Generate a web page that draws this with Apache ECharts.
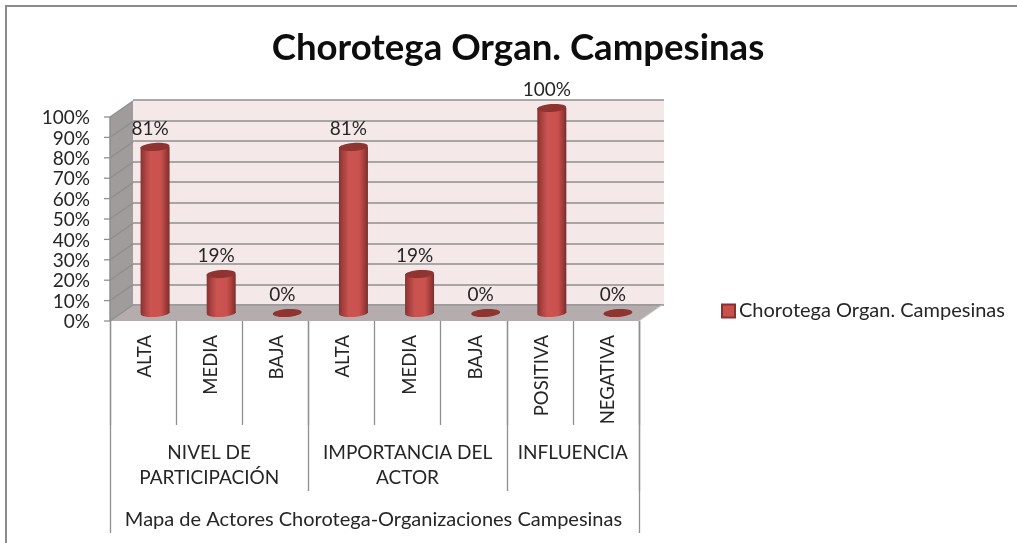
<!DOCTYPE html>
<html><head><meta charset="utf-8">
<style>html,body{margin:0;padding:0;background:#fff}#c{width:1017px;height:543px}</style>
<script src="https://cdn.jsdelivr.net/npm/echarts@6/dist/echarts.min.js"></script>
</head><body><div id="c"></div>
<script>
const seriesName = 'Chorotega Organ. Campesinas';
const categories = ['ALTA','MEDIA','BAJA','ALTA','MEDIA','BAJA','POSITIVA','NEGATIVA'];
const values = [81,19,0,81,19,0,100,0];
const groupNames = ['NIVEL DE\nPARTICIPACIÓN','IMPORTANCIA DEL\nACTOR','INFLUENCIA'];
const groupSpans = [3,3,2];
const outerLabel = 'Mapa de Actores Chorotega-Organizaciones Campesinas';
const valueTicks = [0,10,20,30,40,50,60,70,80,90,100];

const FONT = 'Lato, Carlito, "Open Sans", sans-serif';
const TEXT = '#262626', GRID = '#8f8f8f';
const DEPTH_X = 23, DEPTH_Y = -16;

const chart = echarts.init(document.getElementById('c'));

function renderShell(params, api) {
  const r = params.coordSys, kids = [];
  const L = r.x, R = r.x + r.width, T = r.y, B = r.y + r.height;
  kids.push({type:'polygon', silent:true, shape:{points:[[L,T],[L+DEPTH_X,T+DEPTH_Y],[L+DEPTH_X,B+DEPTH_Y],[L,B]]}, style:{fill:'#a09c9c'}});
  kids.push({type:'polygon', silent:true, shape:{points:[[L,B],[L+DEPTH_X,B+DEPTH_Y],[R+DEPTH_X,B+DEPTH_Y],[R,B]]}, style:{fill:'#b5adad'}});
  valueTicks.forEach(function (v) {
    const y = api.coord([0, v])[1];
    kids.push({type:'line', silent:true, shape:{x1:L,y1:y,x2:L+DEPTH_X,y2:y+DEPTH_Y}, style:{stroke:GRID,lineWidth:1.5}});
    kids.push({type:'line', silent:true, shape:{x1:L-6,y1:y,x2:L,y2:y}, style:{stroke:GRID,lineWidth:1.3}});
  });
  kids.push({type:'line', silent:true, shape:{x1:L,y1:T,x2:L,y2:B}, style:{stroke:GRID,lineWidth:1.5}});
  kids.push({type:'line', silent:true, shape:{x1:L+DEPTH_X,y1:B+DEPTH_Y,x2:R+DEPTH_X,y2:B+DEPTH_Y}, style:{stroke:GRID,lineWidth:1}});
  kids.push({type:'line', silent:true, shape:{x1:R,y1:B,x2:R+DEPTH_X,y2:B+DEPTH_Y}, style:{stroke:'#cfcaca',lineWidth:1}});
  return {type:'group', children:kids};
}

function renderLevels(params, api) {
  const r = params.coordSys, kids = [];
  const band = r.width / categories.length, B = r.y + r.height;
  const lvl2FirstLine = B + 132, lvl2Bottom = B + 170, lvl3Bottom = B + 212;
  const line = function (x, y1, y2) {
    const px = Math.round(x) + 0.5;
    return {type:'line', silent:true, shape:{x1:px,y1:y1,x2:px,y2:y2}, style:{stroke:GRID,lineWidth:1.3}};
  };
  let start = 0;
  groupSpans.forEach(function (span, i) {
    const x0 = r.x + start * band, x1 = x0 + span * band;
    kids.push(line(x1, B, lvl2Bottom));
    kids.push({type:'text', silent:true, style:{text:groupNames[i], x:(x0+x1)/2, y:lvl2FirstLine - 12.5, align:'center', verticalAlign:'top', font:'19px '+FONT, lineHeight:25, fill:TEXT}});
    start += span;
  });
  kids.push(line(r.x, B, lvl3Bottom));
  kids.push(line(r.x + r.width, B, lvl3Bottom));
  kids.push({type:'text', silent:true, style:{text:outerLabel, x:r.x + r.width/2 - 1, y:(lvl2Bottom+lvl3Bottom)/2 + 8, align:'center', verticalAlign:'middle', font:'20px '+FONT, fill:TEXT}});
  return {type:'group', children:kids};
}

function renderCylinder(params, api) {
  const v = api.value(1);
  const top = api.coord([api.value(0), v]);
  const base = api.coord([api.value(0), 0]);
  const cx = top[0], rx = 14.5, ry = 4;
  const ellipse = function (cy, fill) {
    return {type:'ellipse', shape:{cx:cx,cy:cy,rx:rx,ry:ry}, rotation:0.07, originX:cx, originY:cy, style:{fill:fill}};
  };
  const kids = [];
  if (v > 0) {
    const grad = new echarts.graphic.LinearGradient(0,0,1,0,[
      {offset:0,color:'#8a302e'},{offset:0.15,color:'#a84240'},{offset:0.35,color:'#cb5451'},
      {offset:0.7,color:'#c9514e'},{offset:0.88,color:'#a03c3a'},{offset:1,color:'#7d2b29'}]);
    kids.push(ellipse(base[1], grad));
    kids.push({type:'rect', shape:{x:cx-rx,y:top[1],width:rx*2,height:base[1]-top[1]}, style:{fill:grad}});
  }
  kids.push(ellipse(top[1], '#903431'));
  kids.push({type:'text', style:{text:v+'%', x:cx-5, y:top[1]-18, align:'center', verticalAlign:'middle', font:'19px '+FONT, fill:TEXT}});
  return {type:'group', children:kids};
}

chart.setOption({
  animation:false,
  backgroundColor:'#fff',
  title:{text:seriesName, left:513, top:25, textAlign:'center',
    textStyle:{fontFamily:FONT,fontSize:36.6,fontWeight:'bold',color:'#0d0d0d'}},
  legend:{data:[seriesName], left:716, top:296, itemWidth:13, itemHeight:13, itemGap:5, icon:'rect',
    textStyle:{fontFamily:FONT,fontSize:20,color:TEXT,padding:[0,0,0,-1]}},
  grid:[
    {left:110, right:378, top:117, height:204},
    {left:133, right:353, top:100, height:205, show:true, backgroundColor:'#f5e8e8', borderWidth:0},
    {left:122, right:366, top:108, height:205},
    {left:112, right:376, top:118, height:204}
  ],
  xAxis:[
    {gridIndex:0, type:'category', data:categories,
      axisLine:{show:false}, axisLabel:{show:false, interval:0},
      axisTick:{show:true, interval:0, length:104, lineStyle:{color:GRID,width:1.3}}},
    {gridIndex:1, type:'category', data:categories, show:false},
    {gridIndex:2, type:'category', data:categories, show:false},
    {gridIndex:3, type:'category', data:categories,
      axisLine:{show:false}, axisTick:{show:false},
      axisLabel:{rotate:90, margin:13, fontFamily:FONT, fontSize:18.5, color:TEXT, interval:0}}
  ],
  yAxis:[
    {gridIndex:0, type:'value', min:0, max:100, interval:10,
      axisLine:{show:false}, axisTick:{show:false}, axisLabel:{show:false}, splitLine:{show:false}},
    {gridIndex:1, type:'value', min:0, max:100, interval:10,
      axisLine:{show:false}, axisTick:{show:false}, axisLabel:{show:false},
      splitLine:{show:true, lineStyle:{color:GRID,width:1.6}}},
    {gridIndex:2, type:'value', min:0, max:100, interval:10, show:false, splitLine:{show:false}},
    {gridIndex:3, type:'value', min:0, max:100, interval:10,
      axisLine:{show:false}, axisTick:{show:false}, splitLine:{show:false},
      axisLabel:{formatter:'{value}%', margin:22, fontFamily:FONT, fontSize:19, color:TEXT}}
  ],
  graphic:[{type:'polyline', silent:true, z:-1, shape:{points:[[6,543],[6,6],[1017,6]]}, style:{fill:'none',stroke:'#8c8c8c',lineWidth:2}}],
  series:[
    {type:'custom', name:'shell', xAxisIndex:0, yAxisIndex:0, z:1, clip:false, silent:true, data:[[0,0]], renderItem:renderShell, tooltip:{show:false}},
    {type:'custom', name:'levels', xAxisIndex:0, yAxisIndex:0, z:1, clip:false, silent:true, data:[[0,0]], renderItem:renderLevels, tooltip:{show:false}},
    {type:'custom', name:seriesName, xAxisIndex:2, yAxisIndex:2, z:5, clip:false,
      itemStyle:{color:'#c9504d', borderColor:'#8e2f2d', borderWidth:1.2},
      encode:{x:0,y:1}, data:values.map(function (v,i){return [i,v];}), renderItem:renderCylinder}
  ]
});
</script></body></html>
